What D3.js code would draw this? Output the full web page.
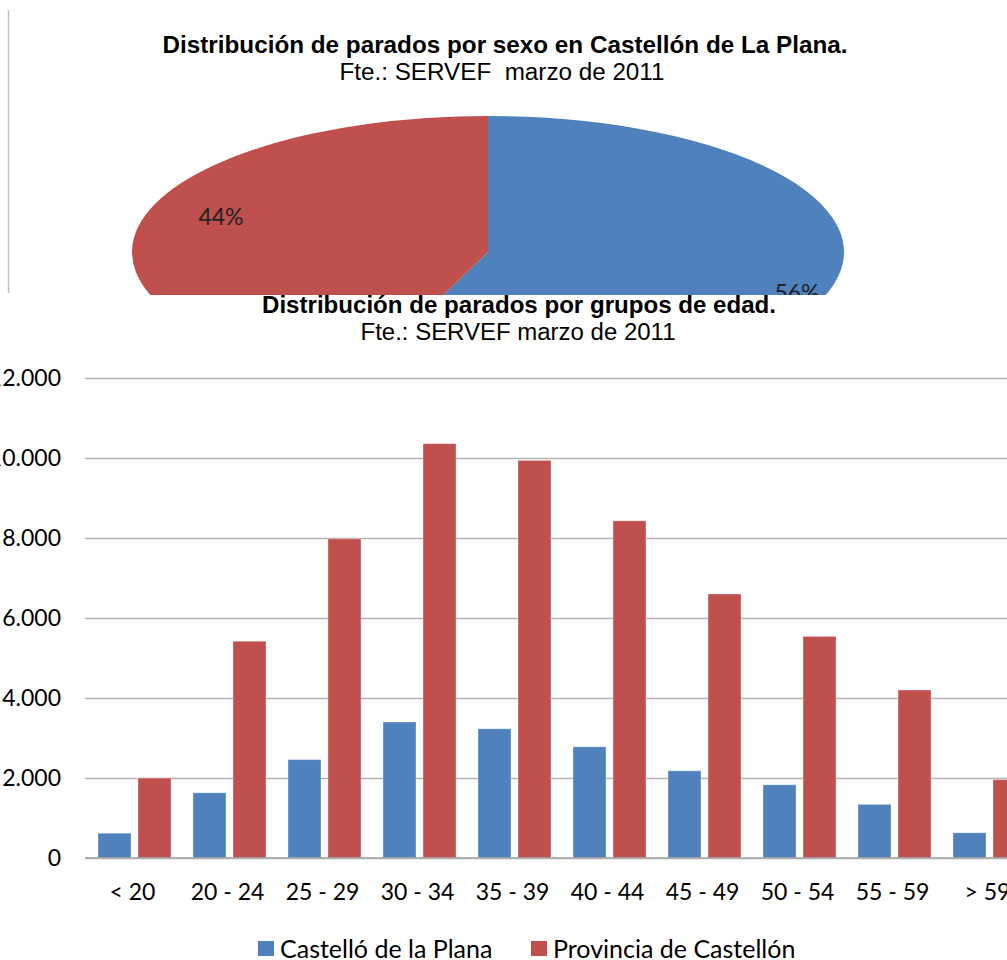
<!DOCTYPE html>
<html>
<head>
<script src="https://d3js.org/d3.v7.min.js"></script>
<style>
  body { margin: 0; background: #fff; }
  text { fill: #000; }
</style>
</head>
<body>
<script>
// --- pie: parados por sexo ---
var sexLabels = ["Hombres", "Mujeres"];
var sexShares = [56, 44];

// --- bars: parados por grupos de edad ---
var ageGroups = ["< 20", "20 - 24", "25 - 29", "30 - 34", "35 - 39", "40 - 44", "45 - 49", "50 - 54", "55 - 59", "> 59"];
var castelloValues = [620, 1630, 2460, 3400, 3230, 2780, 2180, 1830, 1340, 630];
var provinciaValues = [2000, 5420, 7980, 10360, 9940, 8430, 6600, 5540, 4200, 1960];
var seriesNames = ["Castelló de la Plana", "Provincia de Castellón"];
var yTicks = [0, 2000, 4000, 6000, 8000, 10000, 12000];

var colors = ["#4F81BD", "#C0504D"];
var W = 1007, H = 960;

var svg = d3.select("body").append("svg").attr("width", W).attr("height", H);

var es = d3.formatLocale({decimal: ",", thousands: ".", grouping: [3], currency: ["", " €"]});
var fmtThousands = es.format(",d");

// title helper: Arial-like, stretched to the width seen in the original
function title(parent, txt, cx, by, bold, width) {
  return parent.append("text")
    .attr("x", cx).attr("y", by)
    .attr("text-anchor", "middle")
    .attr("textLength", width)
    .attr("lengthAdjust", "spacingAndGlyphs")
    .style("white-space", "pre")
    .style("font-family", "Liberation Sans, Arial, sans-serif")
    .style("font-weight", bold ? "bold" : "normal")
    .style("font-size", "23px")
    .text(txt);
}

// ---------- pie chart (top, cut off by the bar chart) ----------
svg.append("line")
  .attr("x1", 8.5).attr("x2", 8.5).attr("y1", 10).attr("y2", 293)
  .attr("stroke", "#c0c0c0").attr("stroke-width", 1.5);

title(svg, "Distribución de parados por sexo en Castellón de La Plana.", 505, 53, true, 685);
title(svg, "Fte.: SERVEF  marzo de 2011", 502, 80, false, 325);

var pieRx = 356, pieRy = 136;
var pieG = svg.append("g")
  .attr("transform", "translate(488,252) scale(1," + (pieRy / pieRx) + ")");
var pieArcs = d3.pie().sort(null)(sexShares);
pieG.selectAll("path.slice")
  .data(pieArcs)
  .enter()
  .append("path")
    .attr("class", "slice")
    .attr("d", d3.arc().innerRadius(0).outerRadius(pieRx))
    .attr("fill", function (d, i) { return colors[i]; });

// percentage labels, placed where the original puts them
var pieLabelPos = [[797, 301], [221, 225]];
svg.selectAll("text.pct")
  .data(pieArcs)
  .enter()
  .append("text")
    .attr("class", "pct")
    .attr("x", function (d, i) { return pieLabelPos[i][0]; })
    .attr("y", function (d, i) { return pieLabelPos[i][1]; })
    .attr("text-anchor", "middle")
    .style("font-family", "Lato, sans-serif")
    .style("font-size", "23px")
    .style("fill", "#222")
    .text(function (d) { return Math.round(d.value) + "%"; });

// ---------- bar chart (bottom) ----------
var panel = svg.append("g");
panel.append("rect").attr("x", 0).attr("y", 295).attr("width", W).attr("height", H - 295).attr("fill", "#fff");

title(panel, "Distribución de parados por grupos de edad.", 519, 313, true, 514);
title(panel, "Fte.: SERVEF marzo de 2011", 518, 340, false, 315);

var y = d3.scaleLinear().domain([0, 12000]).range([858, 378]);
var x0 = d3.scaleBand().domain(ageGroups).range([85, 1035]);
var x1 = d3.scaleBand().domain(seriesNames).range([13, 86]).paddingInner(0.175);

// gridlines
panel.append("g")
  .attr("transform", "translate(85,0)")
  .call(d3.axisLeft(y).tickValues(yTicks).tickSize(-1000).tickFormat(""))
  .call(function (g) {
    g.select(".domain").remove();
    g.selectAll(".tick line").attr("stroke", "#b2b2b2").attr("stroke-width", 1.5);
  });

// y labels
panel.append("g")
  .attr("transform", "translate(61,0)")
  .call(d3.axisLeft(y).tickValues(yTicks).tickSize(0).tickPadding(0).tickFormat(fmtThousands))
  .call(function (g) {
    g.select(".domain").remove();
    g.selectAll(".tick text")
      .style("font-family", "Lato, sans-serif")
      .style("font-size", "23px")
      .attr("fill", "#222");
  });

var rows = ageGroups.map(function (g, i) {
  return {group: g, values: [castelloValues[i], provinciaValues[i]]};
});

var groups = panel.selectAll("g.grp")
  .data(rows)
  .enter()
  .append("g")
    .attr("class", "grp")
    .attr("transform", function (d) { return "translate(" + x0(d.group) + ",0)"; });

groups.selectAll("rect")
  .data(function (d) { return d.values.map(function (v, k) { return {name: seriesNames[k], value: v, k: k}; }); })
  .enter()
  .append("rect")
    .attr("x", function (d) { return x1(d.name); })
    .attr("width", x1.bandwidth())
    .attr("y", function (d) { return y(d.value); })
    .attr("height", function (d) { return y(0) - y(d.value); })
    .attr("fill", function (d) { return colors[d.k]; })
    .attr("stroke", "#fff").attr("stroke-opacity", 0.35).attr("stroke-width", 1);

// x axis line + labels
panel.append("g")
  .attr("transform", "translate(0,858)")
  .call(d3.axisBottom(x0).tickSize(0).tickPadding(0))
  .call(function (g) {
    g.select(".domain").attr("stroke", "#a6a6a6").attr("stroke-width", 1.5)
      .attr("d", "M85,0H1035");
    g.selectAll(".tick text")
      .attr("y", 42).attr("dy", 0)
      .style("font-family", "Lato, sans-serif")
      .style("font-size", "23px")
      .attr("fill", "#222");
  });

// legend
var legendX = [258, 531];
var legend = panel.selectAll("g.leg")
  .data(seriesNames)
  .enter()
  .append("g")
    .attr("class", "leg")
    .attr("transform", function (d, i) { return "translate(" + legendX[i] + ",941)"; });
legend.append("rect").attr("width", 16).attr("height", 15)
  .attr("fill", function (d, i) { return colors[i]; });
legend.append("text").attr("x", 22).attr("y", 17)
  .style("font-family", "Lato, sans-serif")
  .style("font-size", "25px")
  .attr("fill", "#222")
  .text(function (d) { return d; });
</script>
</body>
</html>
